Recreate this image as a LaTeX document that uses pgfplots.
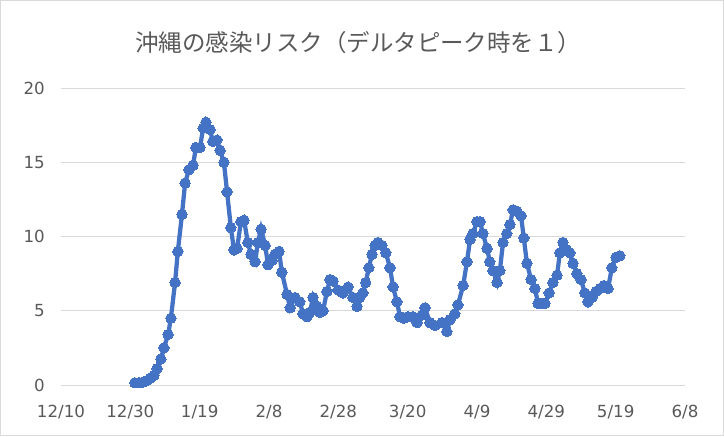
\documentclass[border=0pt]{standalone}
\usepackage{pgfplots}
\pgfplotsset{compat=1.18}
\usepackage{fontspec}
\setmainfont{DejaVu Sans}
\newfontfamily\cjk{Noto Sans CJK JP}
\definecolor{xlblue}{HTML}{4472C4}
\definecolor{xlgrid}{HTML}{D9D9D9}
\definecolor{xltext}{HTML}{595959}

% days counted from 12/10
\pgfplotstableread{
day val
21.3 0.15
22.5 0.15
23.7 0.2
24.8 0.3
25.7 0.45
26.8 0.65
27.7 1.1
28.8 1.75
29.7 2.5
30.9 3.4
31.7 4.5
32.9 6.9
33.7 9.0
34.9 11.5
35.8 13.6
36.9 14.5
38.1 14.8
38.9 16.0
40.1 16.0
41.0 17.3
41.8 17.7
43.0 17.2
43.8 16.4
45.0 16.5
45.9 15.8
47.0 15.0
47.9 13.0
49.0 10.6
49.9 9.1
50.8 9.2
51.9 11.0
52.8 11.1
53.9 9.6
54.8 8.8
56.0 8.3
56.8 9.6
57.7 10.5
58.9 9.4
59.7 8.1
60.9 8.4
61.7 8.8
62.9 9.0
63.7 7.6
65.2 6.1
66.1 5.2
67.5 5.9
68.9 5.6
69.8 4.8
71.0 4.6
71.8 4.9
72.7 5.9
73.8 5.3
74.7 4.9
75.6 5.0
76.7 6.3
77.6 7.1
78.5 7.0
79.9 6.4
81.3 6.2
82.8 6.6
84.2 5.9
85.4 5.3
86.2 5.9
87.1 6.2
87.9 6.9
88.8 7.9
89.7 8.8
90.6 9.4
91.4 9.6
92.6 9.4
93.7 8.9
94.9 7.9
95.8 6.6
96.9 5.6
97.8 4.6
98.9 4.5
100.1 4.6
101.5 4.6
102.7 4.2
104.1 4.7
105.0 5.2
106.4 4.2
107.9 4.0
109.9 4.2
111.3 3.6
112.2 4.4
113.6 4.8
114.5 5.4
116.0 6.7
117.1 8.3
118.0 9.8
118.8 10.2
120.0 11.0
120.9 11.0
121.7 10.2
122.9 9.2
123.7 8.3
124.6 7.7
125.8 6.9
126.6 7.7
127.5 9.6
128.6 10.2
129.5 10.8
130.4 11.8
131.5 11.7
132.7 11.4
133.5 9.9
134.4 8.2
135.6 7.1
136.7 6.5
137.6 5.5
138.7 5.5
139.6 5.5
140.8 6.2
141.9 6.9
143.1 7.4
143.9 8.9
144.8 9.6
145.9 9.1
146.8 8.9
147.7 8.2
148.8 7.5
150.0 7.1
151.1 6.2
152.0 5.6
153.2 5.9
154.3 6.3
155.5 6.5
156.6 6.7
157.8 6.5
158.9 7.9
160.1 8.6
161.2 8.7
}\risk

\begin{document}
\begin{tikzpicture}
\path[use as bounding box] (-45.75pt,-38.25pt) rectangle (497.25pt,288.75pt);
\draw[xlgrid, line width=0.75pt] (-45.375pt,-37.875pt) rectangle (496.875pt,288.375pt);
\begin{axis}[
    at={(0pt,0pt)}, anchor=south west,
    scale only axis,
    width=468pt, height=222.75pt,
    xmin=0, xmax=180, ymin=0, ymax=20,
    xtick={0,20,...,180},
    xticklabels={12/10,12/30,1/19,2/8,2/28,3/20,4/9,4/29,5/19,6/8},
    ytick={0,5,...,20},
    axis line style={draw=none},
    major tick length=0pt,
    ymajorgrids,
    grid style={xlgrid, line width=0.75pt},
    tick label style={font=\fontsize{12.5}{14}\selectfont, text=xltext},
    /pgf/number format/assume math mode=true,
    yticklabel style={anchor=east, inner sep=0pt, xshift=-12pt},
    xticklabel style={anchor=north, inner sep=0pt, yshift=-15pt},
    clip=false,
]
\addplot[xlblue, line width=3.2pt, mark=*, mark size=3.9pt,
    mark options={fill=xlblue, draw=xlblue, line width=0pt}] table[x=day, y=val] {\risk};
\end{axis}
\node[text=xltext, font=\cjk\fontsize{17.6}{20}\selectfont] at (223pt,256.5pt) {沖縄の感染リスク（デルタピーク時を１）};
\end{tikzpicture}
\end{document}
